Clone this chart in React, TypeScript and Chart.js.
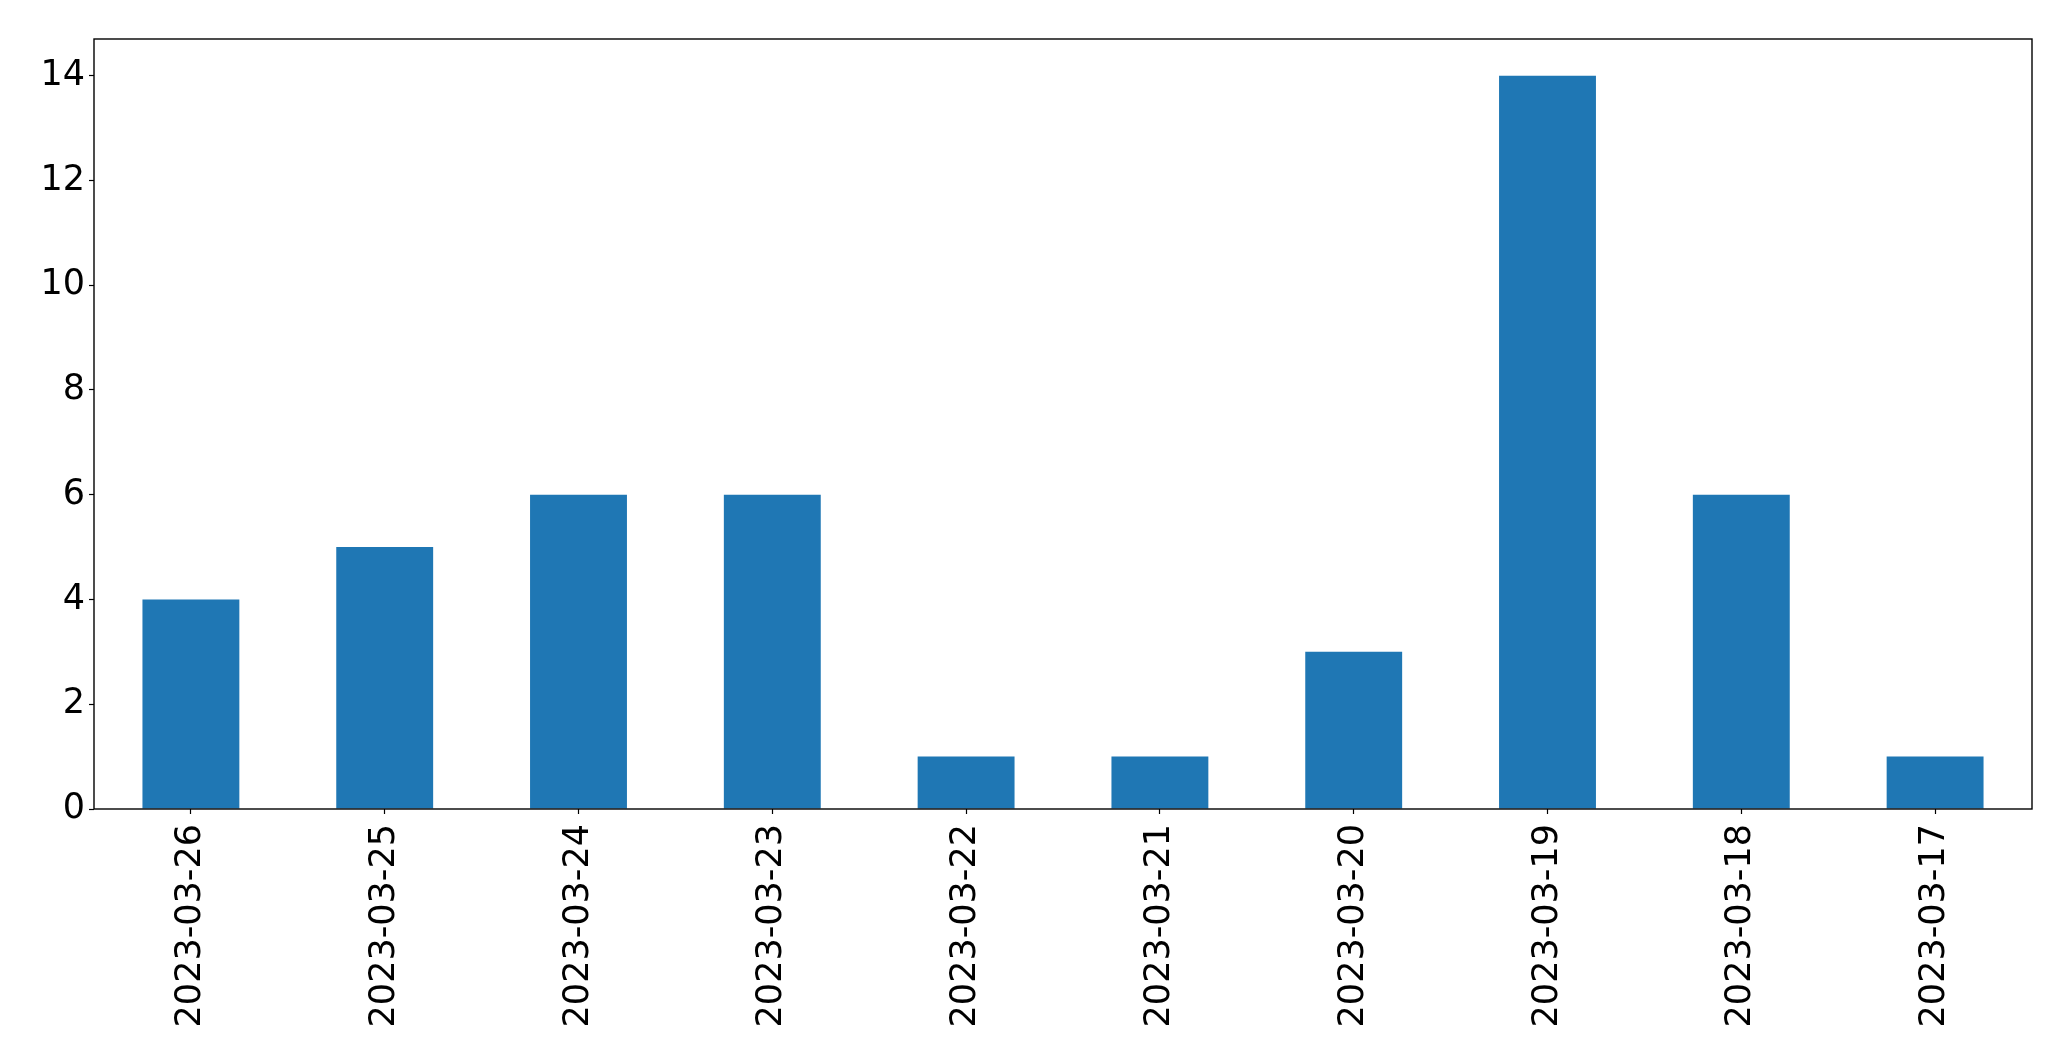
import React, { useEffect, useRef } from "react";
import { Chart, registerables } from "chart.js";

Chart.register(...registerables);

const categories = [
  "2023-03-26",
  "2023-03-25",
  "2023-03-24",
  "2023-03-23",
  "2023-03-22",
  "2023-03-21",
  "2023-03-20",
  "2023-03-19",
  "2023-03-18",
  "2023-03-17",
];
const counts = [4, 5, 6, 6, 1, 1, 3, 14, 6, 1];
const yTickValues = [0, 2, 4, 6, 8, 10, 12, 14];
const yMax = 14.7;

const W = 2071;
const H = 1061;
const FONT = "'DejaVu Sans', sans-serif";

const framePlugin = {
  id: "frame",
  afterDatasetsDraw(chart: any) {
    const { ctx, chartArea } = chart;
    ctx.save();
    ctx.strokeStyle = "#000";
    ctx.lineWidth = 1.4;
    ctx.strokeRect(chartArea.left, chartArea.top, chartArea.right - chartArea.left, chartArea.bottom - chartArea.top);
    ctx.restore();
  },
};

export default function App() {
  const ref = useRef<HTMLCanvasElement | null>(null);

  useEffect(() => {
    if (!ref.current) return;
    const chart = new Chart(ref.current, {
      type: "bar",
      data: {
        labels: categories,
        datasets: [
          {
            data: counts,
            backgroundColor: "#1f77b4",
            borderWidth: 0,
            inflateAmount: 0,
            barPercentage: 0.5,
            categoryPercentage: 1.0,
          },
        ],
      },
      plugins: [framePlugin],
      options: {
        animation: false,
        responsive: false,
        devicePixelRatio: 1,
        layout: { padding: { top: 39, right: 39, left: 0, bottom: 0 } },
        plugins: {
          legend: { display: false },
          tooltip: { enabled: false },
          title: { display: false },
        },
        scales: {
          x: {
            type: "category",
            offset: true,
            border: { display: false },
            grid: {
              display: true,
              offset: false,
              drawOnChartArea: false,
              drawTicks: true,
              tickLength: 5,
              tickColor: "#000",
              tickWidth: 1.2,
            },
            ticks: {
              color: "#000",
              font: { family: FONT, size: 35 },
              minRotation: 90,
              maxRotation: 90,
              autoSkip: false,
              padding: 10,
            },
            afterFit(scale: any) {
              scale.height = H - 809;
            },
          },
          y: {
            min: 0,
            max: yMax,
            border: { display: false },
            grid: {
              display: true,
              drawOnChartArea: false,
              drawTicks: true,
              tickLength: 5,
              tickColor: "#000",
              tickWidth: 1.2,
            },
            ticks: {
              color: "#000",
              font: { family: FONT, size: 35 },
              includeBounds: false,
              padding: 4,
            },
            afterBuildTicks(scale: any) {
              scale.ticks = yTickValues.map((v) => ({ value: v }));
            },
            afterFit(scale: any) {
              scale.width = 94;
            },
          },
        },
      },
    } as any);
    return () => chart.destroy();
  }, []);

  return (
    <div style={{ position: "absolute", left: 0, top: 0, width: W, height: H, background: "#fff" }}>
      <canvas ref={ref} width={W} height={H} style={{ display: "block", width: W, height: H }} />
    </div>
  );
}
